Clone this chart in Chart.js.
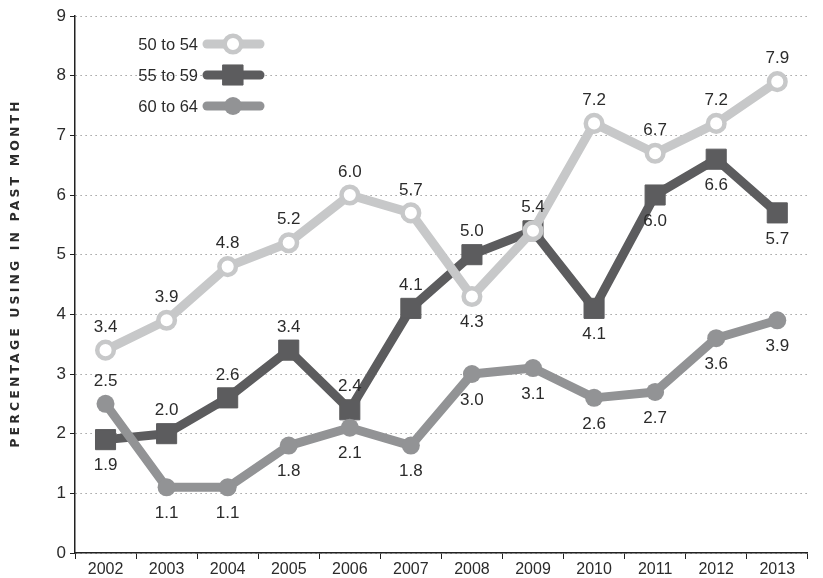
<!DOCTYPE html>
<html>
<head>
<meta charset="utf-8">
<script src="https://cdn.jsdelivr.net/npm/chart.js@4/dist/chart.umd.min.js"></script>
<style>
  html, body { margin: 0; padding: 0; background: #fff; }
  canvas { display: block; }
</style>
</head>
<body>
<canvas id="chart" width="823" height="578"></canvas>
<script>
/* ── Дані ── */
var years = ['2002', '2003', '2004', '2005', '2006', '2007', '2008', '2009', '2010', '2011', '2012', '2013'];
var seriesNames = ['50 to 54', '55 to 59', '60 to 64'];
var age5054 = [3.4, 3.9, 4.8, 5.2, 6.0, 5.7, 4.3, 5.4, 7.2, 6.7, 7.2, 7.9];
var age5559 = [1.9, 2.0, 2.6, 3.4, 2.4, 4.1, 5.0, 5.4, 4.1, 6.0, 6.6, 5.7];
var age6064 = [2.5, 1.1, 1.1, 1.8, 2.1, 1.8, 3.0, 3.1, 2.6, 2.7, 3.6, 3.9];
var yTicks = [0, 1, 2, 3, 4, 5, 6, 7, 8, 9];
var yTitle = 'PERCENTAGE USING IN PAST MONTH';

/* підписи: a — над точкою, b — під точкою */
var place5054 = ['a', 'a', 'a', 'a', 'a', 'a', 'b', 'a', 'a', 'a', 'a', 'a'];
var place5559 = ['b', 'a', 'a', 'a', 'a', 'a', 'a', 'a', 'b', 'b', 'b', 'b'];
var place6064 = ['a', 'b', 'b', 'b', 'b', 'b', 'b', 'b', 'b', 'b', 'b', 'b'];

var LIGHT = '#c7c8c9';
var DARK  = '#5c5c5e';
var MID   = '#929395';
var TEXT  = '#2b2b2b';
var FONT  = '"Liberation Sans", Arial, sans-serif';

function lineSet( label, data, color, style ) {
    return Object.assign( {
        label:            label,
        data:             data,
        borderColor:      color,
        borderWidth:      9,
        borderJoinStyle:  'round',
        borderCapStyle:   'round',
        tension:          0,
        fill:             false,
        pointBorderColor: color,
        pointHoverRadius: 0
    }, style );
}

/* порядок: перший набір малюється зверху */
var ds5054 = lineSet( seriesNames[0], age5054, LIGHT, {
    pointStyle: 'circle', pointRadius: 8.3, pointBorderWidth: 4.5,
    pointBackgroundColor: '#ffffff', place: place5054
} );
var ds6064 = lineSet( seriesNames[2], age6064, MID, {
    pointStyle: 'circle', pointRadius: 9, pointBorderWidth: 0,
    pointBackgroundColor: MID, place: place6064
} );
var ds5559 = lineSet( seriesNames[1], age5559, DARK, {
    pointStyle: 'rect', pointRadius: 14.2, pointBorderWidth: 1,
    pointBackgroundColor: DARK, place: place5559
} );

/* ── Підписи значень ── */
var valueLabels = {
    id: 'valueLabels',
    afterDatasetsDraw: function ( chart ) {
        var ctx = chart.ctx;
        var seen = {}; // однаковий текст в одному місці малюємо лише раз
        ctx.save();
        ctx.font = '17px ' + FONT;
        ctx.fillStyle = TEXT;
        ctx.textAlign = 'center';
        ctx.textBaseline = 'middle';
        chart.data.datasets.forEach( function ( ds, i ) {
            var meta = chart.getDatasetMeta( i );
            meta.data.forEach( function ( pt, j ) {
                var dy  = ds.place[ j ] === 'a' ? -23 : 26;
                var txt = ds.data[ j ].toFixed( 1 );
                var key = txt + '@' + Math.round( pt.x ) + ',' + Math.round( pt.y + dy );
                if ( seen[ key ] ) return;
                seen[ key ] = true;
                ctx.fillText( txt, pt.x, pt.y + dy );
            } );
        } );
        ctx.restore();
    }
};

/* ── Легенда зліва вгорі ── */
var cornerLegend = {
    id: 'cornerLegend',
    afterDraw: function ( chart ) {
        var ctx = chart.ctx;
        var rows = [ ds5054, ds5559, ds6064 ];
        ctx.save();
        rows.forEach( function ( ds, i ) {
            var y = 44 + i * 31;
            ctx.font = '16.5px ' + FONT;
            ctx.fillStyle = TEXT;
            ctx.textAlign = 'right';
            ctx.textBaseline = 'middle';
            ctx.fillText( ds.label, 198, y + 1 );

            ctx.beginPath();
            ctx.lineWidth = 9;
            ctx.lineCap = 'round';
            ctx.strokeStyle = ds.borderColor;
            ctx.moveTo( 207, y );
            ctx.lineTo( 260, y );
            ctx.stroke();

            ctx.fillStyle = ds.pointBackgroundColor;
            ctx.strokeStyle = ds.pointBorderColor;
            ctx.lineWidth = ds.pointBorderWidth;
            Chart.helpers.drawPoint( ctx, {
                pointStyle:  ds.pointStyle,
                radius:      ds.pointRadius,
                borderWidth: ds.pointBorderWidth,
                rotation:    0
            }, 233, y );
        } );
        ctx.restore();
    }
};

/* ── Назва осі Y з розрядкою ── */
var axisTitle = {
    id: 'axisTitle',
    afterDraw: function ( chart ) {
        var ctx = chart.ctx;
        ctx.save();
        ctx.translate( 16, 273 );
        ctx.rotate( -Math.PI / 2 );
        ctx.font = 'bold 12.5px "DejaVu Sans", sans-serif';
        ctx.letterSpacing = '3.1px';
        ctx.fillStyle = TEXT;
        ctx.textAlign = 'center';
        ctx.textBaseline = 'middle';
        ctx.fillText( yTitle, 0, 0 );
        ctx.restore();
    }
};

new Chart( document.getElementById( 'chart' ), {
    type: 'line',
    data: {
        labels: years,
        datasets: [ ds5054, ds6064, ds5559 ]
    },
    options: {
        responsive: false,
        animation: false,
        devicePixelRatio: 1,
        layout: { padding: { top: 16, right: 0, left: 0, bottom: 0 } },
        plugins: {
            legend:  { display: false },
            tooltip: { enabled: false }
        },
        scales: {
            x: {
                type: 'category',
                offset: true,
                grid: {
                    offset: true,
                    drawOnChartArea: false,
                    drawTicks: true,
                    tickLength: 6,
                    tickColor: '#222'
                },
                border: { color: '#222', width: 1.5 },
                ticks: { color: TEXT, font: { family: FONT, size: 16 }, padding: 1 },
                afterFit: function ( s ) { s.height = 25; }
            },
            y: {
                min: 0,
                max: 9,
                afterBuildTicks: function ( s ) {
                    s.ticks = yTicks.map( function ( v ) { return { value: v }; } );
                },
                grid: {
                    color: '#8a8a8a',
                    lineWidth: 1,
                    tickLength: 5,
                    tickColor: '#222',
                    tickWidth: 1
                },
                border: { color: '#222', width: 1.5, dash: [ 1.2, 3.8 ] },
                ticks: { color: TEXT, font: { family: FONT, size: 17 }, padding: 4 },
                afterFit: function ( s ) { s.width = 75; }
            }
        }
    },
    plugins: [ valueLabels, cornerLegend, axisTitle ]
} );
</script>
</body>
</html>
